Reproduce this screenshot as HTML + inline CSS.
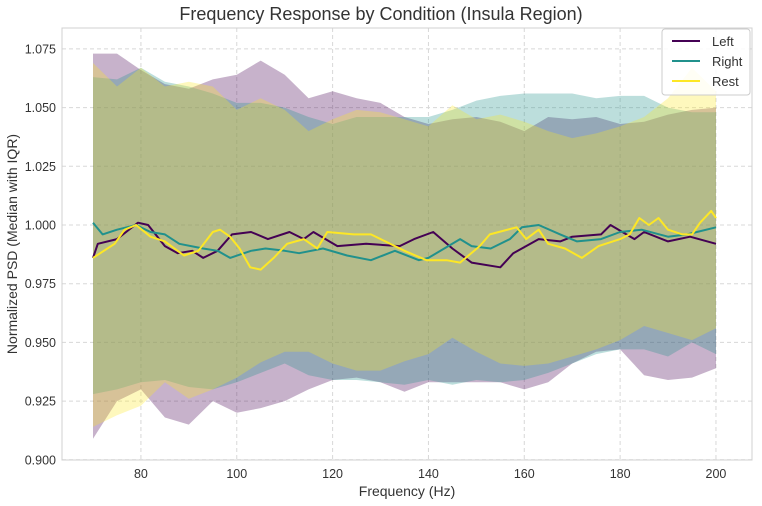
<!DOCTYPE html>
<html><head><meta charset="utf-8"><style>
body{margin:0;background:#fff;}
svg text{font-family:"Liberation Sans",sans-serif;fill:#333;}
</style></head><body>
<svg id="chart" width="762" height="501" xmlns="http://www.w3.org/2000/svg">
<rect x="0" y="0" width="762" height="501" fill="#fff"/>
<g id="grid"></g>
<g id="bands"></g>
<g id="lines"></g>
<rect x="62" y="28" width="690" height="432" fill="none" stroke="#d0d0d0" stroke-width="1"/>
<g id="xticks"></g>
<g id="yticks"></g>
<text x="381" y="20" text-anchor="middle" font-size="18">Frequency Response by Condition (Insula Region)</text>
<text x="407" y="496" text-anchor="middle" font-size="14">Frequency (Hz)</text>
<text transform="translate(17,244) rotate(-90)" text-anchor="middle" font-size="14">Normalized PSD (Median with IQR)</text>
<g>
<rect x="662" y="29" width="88" height="66" rx="3" fill="#fff" fill-opacity="0.85" stroke="#ccc"/>
<g><line x1="672" x2="700" y1="41" y2="41" stroke="#440154" stroke-width="2"/><text x="712" y="46" font-size="13">Left</text></g>
<g><line x1="672" x2="700" y1="61" y2="61" stroke="#21918c" stroke-width="2"/><text x="712" y="66" font-size="13">Right</text></g>
<g><line x1="672" x2="700" y1="81" y2="81" stroke="#fde725" stroke-width="2"/><text x="712" y="86" font-size="13">Rest</text></g>
</g>
</svg>
<script>
const bandFreqs=[70,75,80,85,90,95,100,105,110,115,120,125,130,135,140,145,150,155,160,165,170,175,180,185,190,195,200];
const leftLo=[.909,.925,.930,.918,.915,.925,.920,.922,.925,.930,.934,.935,.933,.929,.933,.933,.933,.933,.930,.933,.941,.946,.947,.936,.934,.935,.939];
const rightLo=[.928,.930,.933,.934,.931,.930,.933,.937,.941,.936,.934,.934,.933,.932,.934,.932,.934,.933,.934,.937,.941,.945,.947,.947,.944,.950,.945];
const restLo=[.914,.919,.923,.933,.926,.930,.935,.9415,.946,.946,.941,.938,.938,.942,.945,.952,.946,.941,.940,.941,.944,.947,.951,.957,.954,.951,.956];
const leftHi=[1.073,1.073,1.066,1.060,1.058,1.062,1.064,1.070,1.064,1.054,1.057,1.054,1.052,1.046,1.043,1.045,1.046,1.044,1.040,1.046,1.045,1.046,1.043,1.044,1.047,1.049,1.050];
const rightHi=[1.063,1.062,1.067,1.061,1.059,1.056,1.052,1.052,1.050,1.046,1.043,1.046,1.046,1.046,1.046,1.049,1.053,1.055,1.056,1.056,1.056,1.054,1.055,1.055,1.050,1.048,1.048];
const restHi=[1.069,1.059,1.067,1.059,1.061,1.059,1.049,1.054,1.049,1.040,1.045,1.049,1.048,1.045,1.042,1.051,1.045,1.047,1.044,1.040,1.037,1.039,1.042,1.046,1.054,1.067,1.057];
const leftF=[70,71,75,79.4,81.5,85,87.7,90.7,93,96,99,103,106.5,111,114,116,121,127,134,137,141,145,149,155,157.7,163,167.5,170,176,178,183,185,190,194.6,200];
const leftMed=[.986,.992,.994,1.001,1.000,.991,.988,.989,.986,.989,.996,.997,.994,.997,.994,.997,.991,.992,.991,.994,.997,.990,.984,.982,.988,.994,.993,.995,.996,1.000,.994,.997,.993,.995,.992];
const rightF=[70,72,75,79,82,85,88,93,96,98.6,103,106,110,113,118,123,128,133,138,140,146.6,149,153,157,159.5,163,167.5,171,176,180,184.5,190,194,200];
const rightMed=[1.001,.996,.998,1.000,.997,.996,.992,.990,.989,.986,.989,.990,.989,.988,.990,.987,.985,.989,.985,.986,.994,.991,.990,.994,.999,1.000,.996,.993,.994,.997,.998,.995,.996,.999];
const restF=[70,74.5,76.6,79,82,85,89,92,95,96.5,98.6,100.6,102.8,105,107.7,110.5,114,116.8,118.9,124.4,128,131,135,139.6,143.8,146.6,150.7,152.8,158.4,160.4,163,165,168.5,172,175.5,180,182,184,186,188,190,193,195,196.7,199,200];
const restMed=[.986,.992,.998,1.000,.995,.993,.987,.989,.997,.998,.995,.990,.982,.981,.986,.992,.994,.990,.997,.996,.996,.993,.989,.985,.985,.984,.991,.996,.999,.994,.998,.992,.990,.986,.991,.994,.996,1.003,1.000,1.003,.998,.996,.996,1.001,1.006,1.003];
const xTicks=[80,100,120,140,160,180,200];
const yTicks=[0.900,0.925,0.950,0.975,1.000,1.025,1.050,1.075];

const NS='http://www.w3.org/2000/svg';
function xs(f){return 93+(f-70)*4.792;}
function ys(v){return 225-(v-1)*2348;}
function mk(tag,attrs,parent){const e=document.createElementNS(NS,tag);for(const k in attrs)e.setAttribute(k,attrs[k]);parent.appendChild(e);return e;}
const grid=document.getElementById('grid'),bands=document.getElementById('bands'),lines=document.getElementById('lines');
const xt=document.getElementById('xticks'),yt=document.getElementById('yticks');
xTicks.forEach(t=>{
  const l=mk('line',{x1:xs(t),x2:xs(t),y1:28,y2:460,stroke:'#d8d8d8','stroke-dasharray':'4,3'},grid);
  
  
  const tx=mk('text',{x:xs(t),y:478,'text-anchor':'middle','font-size':'12.5'},xt);
  tx.textContent=t;
  
  
});
yTicks.forEach(t=>{
  const l=mk('line',{x1:62,x2:752,y1:ys(t),y2:ys(t),stroke:'#d8d8d8','stroke-dasharray':'4,3'},grid);
  
  
  const tx=mk('text',{x:56,y:ys(t)+4.5,'text-anchor':'end','font-size':'12.5'},yt);
  tx.textContent=t.toFixed(3);
  
  
});
function band(lo,hi,color,name){
  let d='M'+bandFreqs.map((f,i)=>xs(f).toFixed(1)+','+ys(hi[i]).toFixed(1)).join('L');
  for(let i=bandFreqs.length-1;i>=0;i--)d+='L'+xs(bandFreqs[i]).toFixed(1)+','+ys(lo[i]).toFixed(1);
  const p=mk('path',{d:d+'Z',fill:color,'fill-opacity':0.3,stroke:'none'},bands);
  
  
}
function line(F,V,color,name){
  const p=mk('polyline',{points:F.map((f,i)=>xs(f).toFixed(1)+','+ys(V[i]).toFixed(1)).join(' '),fill:'none',stroke:color,'stroke-width':2,'stroke-linejoin':'round'},lines);
  
  
}
band(leftLo,leftHi,'#440154','band-left');
band(rightLo,rightHi,'#21918c','band-right');
band(restLo,restHi,'#fde725','band-rest');
line(leftF,leftMed,'#440154','median-left');
line(rightF,rightMed,'#21918c','median-right');
line(restF,restMed,'#fde725','median-rest');
</script>
</body></html>
